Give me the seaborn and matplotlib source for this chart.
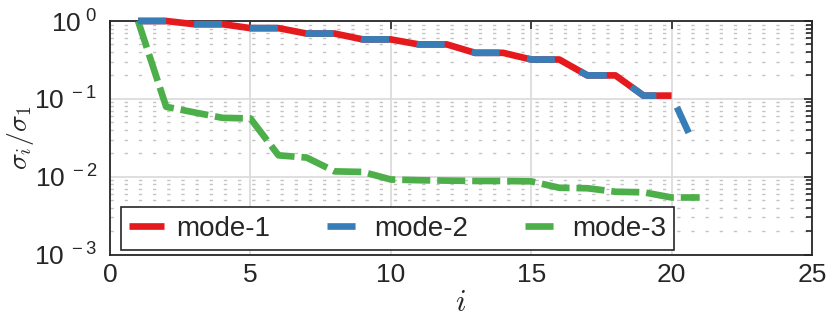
import matplotlib
matplotlib.use("Agg")
import matplotlib.pyplot as plt
import seaborn as sns
import pandas as pd
import numpy as np
from matplotlib.ticker import FixedLocator, LogLocator, NullFormatter

# ---------------- data ----------------
idx_m1 = [1, 2, 3, 4, 5, 6, 7, 8, 9, 10, 11, 12, 13, 14, 15, 16, 17, 18, 19, 20]
mode1 = [1.0, 1.0, 0.91, 0.91, 0.81, 0.81, 0.69, 0.69, 0.58, 0.58,
         0.50, 0.50, 0.39, 0.39, 0.32, 0.32, 0.20, 0.20, 0.11, 0.11]
idx_m2 = [1, 2, 3, 4, 5, 6, 7, 8, 9, 10, 11, 12, 13, 14, 15, 16, 17, 18, 19, 20, 21]
mode2 = [1.0, 1.0, 0.91, 0.91, 0.81, 0.81, 0.69, 0.69, 0.58, 0.58,
         0.50, 0.50, 0.39, 0.39, 0.32, 0.32, 0.20, 0.20, 0.11, 0.11, 0.018]
idx_m3 = [1, 2, 3, 4, 5, 6, 7, 8, 9, 10, 11, 12, 13, 14, 15, 16, 17, 18, 19, 20, 21]
mode3 = [1.0, 0.079, 0.067, 0.057, 0.056, 0.0188, 0.0176, 0.0117, 0.0115, 0.0092,
         0.0090, 0.0089, 0.0088, 0.0088, 0.0087, 0.0072, 0.0071, 0.0064, 0.0063,
         0.0054, 0.0054]
series_names = ["mode-1", "mode-2", "mode-3"]
xticks = [0, 5, 10, 15, 20, 25]
xtick_labels = ["0", "5", "10", "15", "20", "25"]
yticks = [1e-3, 1e-2, 1e-1, 1e0]
ytick_labels = [r"$\mathrm{10^{\ -3}}$", r"$\mathrm{10^{\ -2}}$",
                r"$\mathrm{10^{\ -1}}$", r"$\mathrm{10^{\ 0}}$"]

# ---------------- style ----------------
sns.set_theme(style="white")
plt.rcParams["font.family"] = ["Liberation Sans", "DejaVu Sans"]
plt.rcParams["mathtext.fontset"] = "custom"
plt.rcParams["mathtext.rm"] = "Liberation Sans"
plt.rcParams["mathtext.it"] = "Liberation Sans:italic"
plt.rcParams["lines.scale_dashes"] = False

pal = sns.color_palette("Set1")
c_red, c_blue, c_green = pal[0], pal[1], pal[2]

fig = plt.figure(figsize=(8.3, 3.34), dpi=100)
ax = fig.add_axes([110 / 830, 1 - 254.5 / 334, 702 / 830, 233.5 / 334])

df1 = pd.DataFrame({"i": idx_m1, "v": mode1})
df2 = pd.DataFrame({"i": idx_m2, "v": mode2})
df3 = pd.DataFrame({"i": idx_m3, "v": mode3})

lw = 4.8
sns.lineplot(data=df1, x="i", y="v", ax=ax, color=c_red, lw=lw,
             solid_capstyle="butt", label=series_names[0], clip_on=False, zorder=3)
sns.lineplot(data=df2, x="i", y="v", ax=ax, color=c_blue, lw=lw,
             linestyle=(0, (20.2, 20.2)), dash_capstyle="butt",
             label=series_names[1], clip_on=False, zorder=4)
sns.lineplot(data=df3, x="i", y="v", ax=ax, color=c_green, lw=lw,
             linestyle=(0, (20.2, 5.0)), dash_capstyle="butt",
             label=series_names[2], clip_on=False, zorder=3)

ax.set_yscale("log")
ax.set_xlim(0, 25)
ax.set_ylim(1e-3, 1e0)

ax.xaxis.set_major_locator(FixedLocator(xticks))
ax.set_xticklabels(xtick_labels)
ax.yaxis.set_major_locator(FixedLocator(yticks))
ax.set_yticklabels(ytick_labels)
ax.yaxis.set_minor_locator(LogLocator(base=10, subs=np.arange(2, 10), numticks=20))
ax.yaxis.set_minor_formatter(NullFormatter())

ax.tick_params(axis="both", which="both", direction="in", top=True, right=True,
               colors="#262626", labelcolor="#262626", width=1.2)
ax.tick_params(axis="both", which="major", length=6, labelsize=19)
ax.tick_params(axis="y", which="minor", length=4)
ax.tick_params(axis="x", which="major", pad=6)
ax.tick_params(axis="y", which="major", pad=9)

ax.grid(True, which="major", color="#dcdcdc", lw=1.3, ls="-")
ax.grid(True, which="minor", axis="y", color="#c4c4c4", lw=1.0, ls=(0, (2.4, 7.8)))
ax.set_axisbelow(True)

for s in ax.spines.values():
    s.set_color("#262626")
    s.set_linewidth(1.3)
    s.set_visible(True)

ax.set_xlabel(r"$i$", math_fontfamily="cm", fontsize=22, labelpad=1)
ax.set_ylabel(r"$\sigma_i/\sigma_1$", math_fontfamily="cm", fontsize=20, labelpad=0)
ax.yaxis.set_label_coords(-0.106, 0.5)

leg = ax.legend(loc="lower left", bbox_to_anchor=(0.0157, 0.019), borderaxespad=0,
                ncol=3, fontsize=20, handlelength=1.26, handletextpad=0.43,
                columnspacing=2.05, borderpad=0.3, fancybox=False, framealpha=1,
                edgecolor="#262626")
leg.get_frame().set_linewidth(1.2)

fig.savefig("out.png", dpi=100)
